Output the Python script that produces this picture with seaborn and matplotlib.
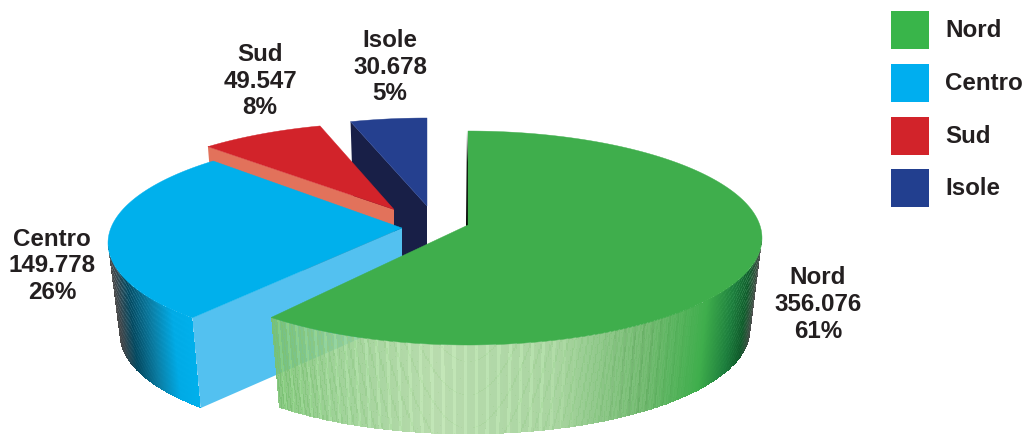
import numpy as np
import matplotlib
matplotlib.use("Agg")
import matplotlib.pyplot as plt
from matplotlib.colors import to_rgb
from matplotlib.patches import Polygon, Rectangle
import seaborn as sns

# Data
regions = ["Nord", "Centro", "Sud", "Isole"]
values = [356076, 149778, 49547, 30678]

# Colours
top_colors = sns.color_palette(["#3fae4c", "#00b0ec", "#d2232a", "#25408f"])
key_colors = sns.color_palette(["#39b54a", "#00aeef", "#d2232a", "#223f8f"])
cut_colors = [(0, 0, 0), "#53c1f0", "#e2725b", "#181f47"]
text_color = "#231f20"

# Pie projection: each slice has its own ellipse centre and hub after being pulled out
RX, RY = 294.0, 107.0
DEPTH, TAPER, RY_TAPER = 92.0, 0.96, 0.975
centre_x = [468.0, 402.0, 394.0, 427.0]
centre_y = [238.0, 243.0, 229.5, 225.0]
hub_y = [225.0, 228.0, 209.5, 206.0]
# Small angular trim of each slice, where the projection leaves a seam
trim_start = [0.0, 2.0, 0.7, -0.5]
trim_end = [-1.5, 0.0, 0.0, 0.0]

label_x = [818, 52, 260, 390]
label_y = [278, 239, 54.5, 40.5]
LINE_STEP = 26.7

sns.set_theme(style="white")
plt.rcParams["font.family"] = ["Liberation Sans", "DejaVu Sans"]

fig = plt.figure(figsize=(10.27, 4.34), dpi=100, facecolor="white")
ax = fig.add_axes([0, 0, 1, 1])
ax.set_xlim(0, 1027)
ax.set_ylim(434, 0)
ax.axis("off")


def warp(theta):
    """Foreshortening of the pie angle (degrees clockwise from the top)."""
    r = np.radians(theta)
    return theta - 10.2 * np.sin(r) - 1.6 * np.sin(2 * r)


def top_rim(i, t):
    r = np.radians(t)
    return centre_x[i] + RX * np.sin(r), centre_y[i] - RY * np.cos(r)


def bottom_rim(i, t):
    r = np.radians(t)
    return (centre_x[i] + RX * TAPER * np.sin(r),
            centre_y[i] + DEPTH - RY * RY_TAPER * np.cos(r))


def top_face(i, t0, t1, **kw):
    t = np.linspace(t0, t1, 200)
    x, y = top_rim(i, t)
    pts = np.column_stack([np.r_[centre_x[i], x], np.r_[hub_y[i], y]])
    ax.add_patch(Polygon(pts, closed=True, facecolor=top_colors[i], edgecolor=top_colors[i],
                         linewidth=0.3, **kw))


def cut_face(i, t, **kw):
    tx, ty = top_rim(i, t)
    bx, by = bottom_rim(i, t)
    pts = [(centre_x[i], hub_y[i]), (tx, ty), (bx, by), (centre_x[i], hub_y[i] + DEPTH)]
    ax.add_patch(Polygon(pts, closed=True, facecolor=cut_colors[i], edgecolor="none", **kw))


def wall(i, t0, t1, ramp_x, ramp_c, ramp_a, ripple_side, stripe):
    """Shaded outer wall, as a mesh of small cells along the rim and the height."""
    n_t, n_z = 420, 92
    ts = np.linspace(t0, t1, n_t + 1)
    zs = np.linspace(0, 1, n_z + 1)
    tx, ty = top_rim(i, ts)
    bx, by = bottom_rim(i, ts)
    X = np.outer(1 - zs, tx) + np.outer(zs, bx)
    Y = np.outer(1 - zs, ty) + np.outer(zs, by)

    xc = 0.5 * (tx[:-1] + tx[1:])
    zc = 0.5 * (zs[:-1] + zs[1:])
    rgb = np.array([to_rgb(c) for c in ramp_c])
    base = np.column_stack([np.interp(xc, ramp_x, rgb[:, k]) for k in range(3)])
    alpha = np.interp(xc, ramp_x, ramp_a)

    # Fine vertical hatching: pale strokes on the light part, dark ones further round,
    # dying out before the fully saturated stretch
    strength = np.interp(xc, [262, 540, 590, 640, 705], [1, 1, 0, -1, 0]) * stripe
    hatch = np.where(np.arange(n_t) % 7 < 2, strength, 0.0)
    base = np.clip(base + hatch[:, None], 0, 1)

    img = np.repeat(base[None, :, :], n_z, axis=0)

    # Arced banding near the silhouette, strongest high on the wall
    edge = np.interp(xc, *ripple_side)
    phase = zc[:, None] + 0.55 * edge[None, :]
    band = (0.5 + 0.5 * np.sin(2 * np.pi * phase * 15)) ** 2
    fade = np.clip(1.15 - zc[:, None], 0, 1)
    img = img + 0.16 * (band * edge[None, :] * fade)[:, :, None]
    img = np.clip(img, 0, 1)

    over_white = (img - (1 - alpha[None, :, None])) / alpha[None, :, None]
    rgba = np.dstack([np.clip(over_white, 0, 1), np.tile(alpha, (n_z, 1))])
    ax.pcolormesh(X, Y, rgba, shading="flat", antialiased=False, linewidth=0, rasterized=True)


shares = np.array(values, dtype=float) / sum(values)
edges = np.r_[0, np.cumsum(shares)] * 360.0
bounds = warp(edges)
starts = bounds[:-1] + np.array(trim_start)
ends = bounds[1:] + np.array(trim_end)

# Back slices first, so the nearer ones cover them
for i in (3, 2):
    cut_face(i, starts[i])
    top_face(i, starts[i], ends[i])

# Centro
cut_face(1, starts[1])
wall(1, starts[1], 270.0,
     [109, 114, 127, 150, 172, 193],
     ["#474747", "#3a464c", "#03485f", "#0a7ea5", "#00aae5", "#00b0ec"],
     [1, 1, 1, 1, 1, 1],
     ([109, 125, 150, 193], [0.9, 0.8, 0.15, 0.0]), 0.0)
top_face(1, starts[1], ends[1])

# Nord: pale wall laid over the Centro cut face
wall(0, 90.0, ends[0],
     [262, 330, 440, 560, 650, 707, 735, 750, 762],
     ["#86c77f", "#9fd298", "#b9dcae", "#a9d5a0", "#77bd75", "#3fae4c", "#1c7d3c", "#0f5a2a", "#4a4a4a"],
     [0.88, 0.88, 0.88, 0.9, 0.95, 1, 1, 1, 1],
     ([715, 735, 750, 762], [0.0, 0.35, 0.8, 0.9]), 0.04)

# Thin dark sliver where the Nord cut face is seen edge-on
sx, sy = top_rim(0, 0.0)
ax.add_patch(Polygon([(sx - 1, sy), (centre_x[0] + 2, hub_y[0]), (centre_x[0] - 2, hub_y[0] + 2)],
                     closed=True, facecolor="black", edgecolor="none"))
top_face(0, starts[0], ends[0])

# Slice labels
for name, val, share, lx, ly in zip(regions, values, shares, label_x, label_y):
    lines = [name, f"{val:,}".replace(",", "."), f"{share * 100:.0f}%"]
    for k, line in enumerate(lines):
        ax.text(lx, ly + k * LINE_STEP, line, ha="center", va="center", fontsize=17.4,
                fontweight="bold", color=text_color)

# Key
key_top = [11, 64, 117, 169]
for name, col, ky in zip(regions, key_colors, key_top):
    ax.add_patch(Rectangle((891, ky), 38, 38, facecolor=col, edgecolor="none"))
    ax.text(945.5, ky + 19.5, name, ha="left", va="center", fontsize=17.4,
            fontweight="bold", color=text_color)

fig.savefig("out.png", dpi=100, facecolor="white")
